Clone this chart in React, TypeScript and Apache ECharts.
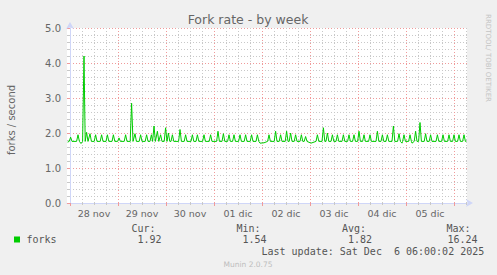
import React, { useEffect, useRef } from "react";
import * as echarts from "echarts";

// ---- data ----
const dayLabels = ["28 nov", "29 nov", "30 nov", "01 dic", "02 dic", "03 dic", "04 dic", "05 dic"];
const yTickLabels = ["0.0", "1.0", "2.0", "3.0", "4.0", "5.0"];
// hours relative to 28 nov 00:00
const X_MIN = -1.5;
const X_MAX = 198.5;
const baseLevel = 1.76;
const spikeHours = [
  0.3, 4.0, 7.0, 8.3, 10.0, 12.8, 15.8, 18.7, 21.7, 24.5, 27.8, 30.8, 32.5, 35.3, 38.3, 40.7,
  42.0, 43.7, 45.3, 47.8, 49.2, 51.2, 55.0, 57.8, 61.2, 63.7, 67.0, 70.3, 74.0, 76.7, 79.5,
  82.0, 85.0, 87.8, 90.8, 93.7, 99.5, 102.8, 105.3, 108.3, 110.3, 112.8, 115.7, 117.8, 123.7,
  126.7, 128.7, 131.2, 133.7, 136.7, 139.5, 142.0, 144.5, 147.0, 150.0, 153.7, 156.2, 158.7,
  161.7, 164.5, 167.0, 170.0, 172.8, 175.0, 177.8, 180.3, 183.7, 186.5, 189.5, 192.0, 194.5, 197.0,
];
const spikePeaks = [
  1.88, 1.95, 4.2, 2.02, 1.98, 1.95, 1.95, 1.95, 1.95, 1.86, 1.95, 2.85, 1.98, 1.95, 1.95, 1.95,
  2.2, 2.05, 1.95, 2.15, 2.0, 1.95, 2.1, 1.95, 1.95, 1.95, 1.95, 1.95, 2.05, 1.98, 1.95,
  1.95, 1.95, 1.95, 1.95, 1.95, 1.95, 2.05, 1.95, 2.05, 2.0, 1.95, 1.95, 1.9, 1.95,
  2.15, 2.0, 1.95, 1.95, 1.95, 1.95, 1.95, 2.05, 1.95, 1.95, 2.05, 1.95, 1.95,
  2.2, 1.98, 1.95, 1.95, 2.05, 2.3, 1.98, 1.95, 1.95, 1.95, 1.95, 1.95, 1.95, 1.95,
];
const dipHours = [-1.2, 5.5, 95.0, 97.0, 120.5, 166.0, 171.0, 198.2];
const dipValues = [1.74, 1.7, 1.71, 1.72, 1.71, 1.71, 1.71, 1.76];

const statLabels = ["Cur:", "Min:", "Avg:", "Max:"];
const statValues = ["1.92", "1.54", "1.82", "16.24"];
const seriesName = "forks";
const lastUpdate = "Last update: Sat Dec  6 06:00:02 2025";

function buildPoints(): [number, number][] {
  const pts: [number, number][] = [];
  spikeHours.forEach((h, i) => {
    pts.push([h - 0.7, baseLevel]);
    pts.push([h, spikePeaks[i]]);
    pts.push([h + 0.7, baseLevel]);
  });
  dipHours.forEach((h, i) => pts.push([h, dipValues[i]]));
  pts.sort((a, b) => a[0] - b[0]);
  return pts;
}

const slots: string[] = [];
for (let i = 0; i <= (X_MAX - X_MIN) * 2; i++) slots.push(String(X_MIN + i * 0.5));
const mod = (h: number, m: number) => ((h % m) + m) % m;
const isMinor = (_i: number, v: string) => mod(Number(v), 6) === 0 && mod(Number(v), 24) !== 0;
const isMajor = (_i: number, v: string) => mod(Number(v), 24) === 0;
const isNoon = (_i: number, v: string) => mod(Number(v), 24) === 12;

export default function App() {
  const ref = useRef<HTMLDivElement>(null);
  useEffect(() => {
    if (!ref.current) return;
    const chart = echarts.init(ref.current, undefined, { renderer: "svg" });
    const red = "#f09a9a";
    const gray = "#c8c8c8";
    const axisColor = "#cfd6f8";
    const font = "DejaVu Sans";
    const mono = "DejaVu Sans Mono";
    const txt = (text: string, x: number, y: number, extra: any = {}) => ({
      type: "text",
      x,
      y,
      silent: true,
      style: {
        text,
        fill: extra.fill || "#555",
        fontFamily: extra.fontFamily || mono,
        fontSize: extra.fontSize || 10,
        align: extra.align || "left",
        verticalAlign: "middle",
        textAlign: extra.align || "left",
        textVerticalAlign: "middle",
      },
      rotation: extra.rotation || 0,
    });
    const statX = [131.5, 236.5, 342, 446.5];
    const valX = [137.5, 242.5, 348, 447.5];
    const graphics: any[] = [
      txt("Fork rate - by week", 248, 19.5, { fontFamily: font, fontSize: 12.5, align: "center", fill: "#666" }),
      txt("forks / second", 11, 120, { fontFamily: font, fontSize: 10, align: "center", fill: "#666", rotation: Math.PI / 2 }),
      txt("RRDTOOL/ TOBI OETIKER", 487.5, 58, { fontFamily: font, fontSize: 7, align: "center", fill: "#c4c4c4", rotation: -Math.PI / 2 }),
      txt("Munin 2.0.75", 248, 264, { fontFamily: font, fontSize: 7.5, align: "center", fill: "#bdbdbd" }),
      { type: "rect", shape: { x: 14, y: 236.5, width: 6, height: 6 }, style: { fill: "#00cc00" }, silent: true },
      txt(seriesName, 26.5, 239.5),
      txt(lastUpdate, 261.5, 251.5),
    ];
    statLabels.forEach((l, i) => graphics.push(txt(l, statX[i], 228.5)));
    statValues.forEach((v, i) => graphics.push(txt(v, valX[i], 239.5)));

    chart.setOption({
      animation: false,
      backgroundColor: "#f0f0f0",
      grid: { left: 67, top: 28, width: 400, height: 175, show: true, backgroundColor: "#ffffff", borderWidth: 0 },
      xAxis: [
        {
          type: "category",
          position: "bottom",
          data: slots,
          boundaryGap: false,
          axisLine: { show: false },
          axisLabel: { show: false },
          axisTick: { show: true, length: 2, interval: isMinor, lineStyle: { color: gray } },
          splitLine: { show: true, interval: isMinor, lineStyle: { color: gray, type: [1, 2], width: 1 } },
        },
        {
          type: "category",
          position: "bottom",
          data: slots,
          boundaryGap: false,
          axisLine: { show: false },
          axisTick: { show: true, length: 3, interval: isMajor, lineStyle: { color: red } },
          axisLabel: {
            show: true,
            interval: isNoon,
            formatter: (v: string) => {
              const h = Number(v);
              if (mod(h, 24) !== 12) return "";
              return dayLabels[(h - 12) / 24] || "";
            },
            color: "#666",
            fontFamily: font,
            fontSize: 9.5,
            margin: 5,
          },
          splitLine: { show: true, interval: isMajor, lineStyle: { color: red, type: [1, 2], width: 1 } },
        },
        {
          type: "value",
          position: "bottom",
          min: X_MIN,
          max: X_MAX,
          axisLine: { show: true, lineStyle: { color: axisColor, width: 1 }, symbol: ["none", "arrow"], symbolSize: [6, 7], symbolOffset: [0, 6] },
          axisTick: { show: false },
          axisLabel: { show: false },
          splitLine: { show: false },
        },
      ],
      yAxis: {
        type: "value",
        min: 0,
        max: 5,
        interval: 1,
        axisLine: { show: true, lineStyle: { color: axisColor, width: 1 }, symbol: ["none", "arrow"], symbolSize: [6, 7], symbolOffset: [0, 6] },
        axisTick: { show: true, length: 3, lineStyle: { color: red } },
        minorTick: { show: true, splitNumber: 5, length: 2, lineStyle: { color: gray } },
        axisLabel: { formatter: (v: number) => yTickLabels[Math.round(v)], color: "#666", fontFamily: font, fontSize: 10, margin: 6 },
        splitLine: { show: true, lineStyle: { color: red, type: [1, 2], width: 1 } },
        minorSplitLine: { show: true, lineStyle: { color: gray, type: [1, 2], width: 1 } },
      },
      series: [
        {
          type: "line",
          xAxisIndex: 2,
          data: buildPoints(),
          showSymbol: false,
          symbol: "none",
          lineStyle: { color: "#00cc00", width: 1 },
          itemStyle: { color: "#00cc00" },
          z: 5,
        },
      ],
      graphic: graphics,
    });
    return () => chart.dispose();
  }, []);
  return <div ref={ref} style={{ width: 497, height: 275, position: "absolute", left: 0, top: 0 }} />;
}
